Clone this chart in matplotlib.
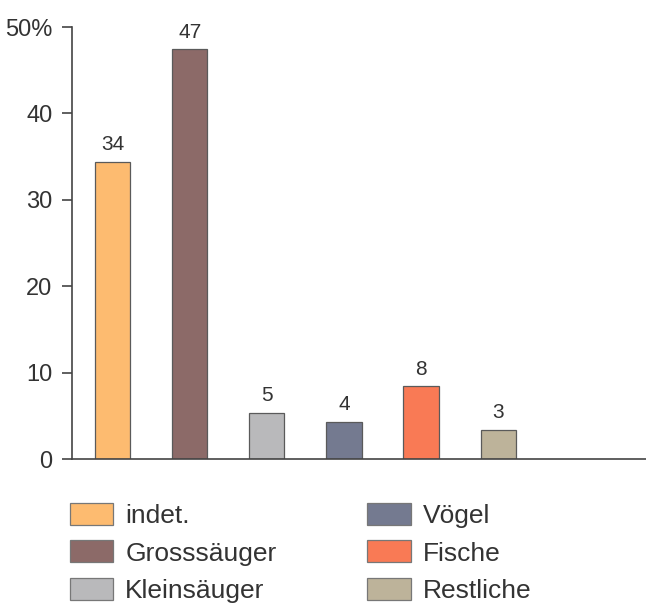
import matplotlib.pyplot as plt
from matplotlib.patches import Patch

plt.rcParams['font.family'] = ['Liberation Sans', 'DejaVu Sans']

categories = ["indet.", "Grosssäuger", "Kleinsäuger", "Vögel", "Fische", "Restliche"]
values = [34.4, 47.4, 5.3, 4.3, 8.4, 3.4]
labels = ["34", "47", "5", "4", "8", "3"]
colors = ["#fdbb70", "#8c6a68", "#b9b9bb", "#747a90", "#f97a55", "#bdb39a"]

yticks = [0, 10, 20, 30, 40, 50]
ytick_labels = ["0", "10", "20", "30", "40", "50%"]

W, H = 646, 610
fig = plt.figure(figsize=(W / 100, H / 100), dpi=100)
ax = fig.add_axes([72 / W, (H - 459) / H, (W - 72) / W, (459 - 27) / H])

x = list(range(len(categories)))
ax.bar(x, values, width=0.455, color=colors, edgecolor="#5a5a5a", linewidth=0.9)
for xi, v, lab in zip(x, values, labels):
    ax.text(xi, v + 0.9, lab, ha="center", va="bottom", fontsize=15, color="#333333")

ax.set_xlim(-0.53, 6.92)
ax.set_ylim(0, 50)
ax.set_yticks(yticks)
ax.set_yticklabels(ytick_labels, fontsize=17, color="#333333")
ax.set_xticks([])
ax.tick_params(axis="y", length=7, width=1.2, color="#444444", pad=7)

for side in ["top", "right"]:
    ax.spines[side].set_visible(False)
for side in ["left", "bottom"]:
    ax.spines[side].set_color("#444444")
    ax.spines[side].set_linewidth(1.2)
ax.spines["left"].set_bounds(0, 50)

handles = [Patch(facecolor=c, edgecolor="#777777", linewidth=0.9) for c in colors]
fig.legend(handles, categories, loc="upper left", bbox_to_anchor=(46 / W, 1 - 479 / H),
           ncol=2, frameon=False, fontsize=19, handlelength=1.65, handleheight=0.9,
           handletextpad=0.45, labelspacing=0.48, columnspacing=3.45,
           labelcolor="#333333")

fig.savefig("out.png", dpi=100)
